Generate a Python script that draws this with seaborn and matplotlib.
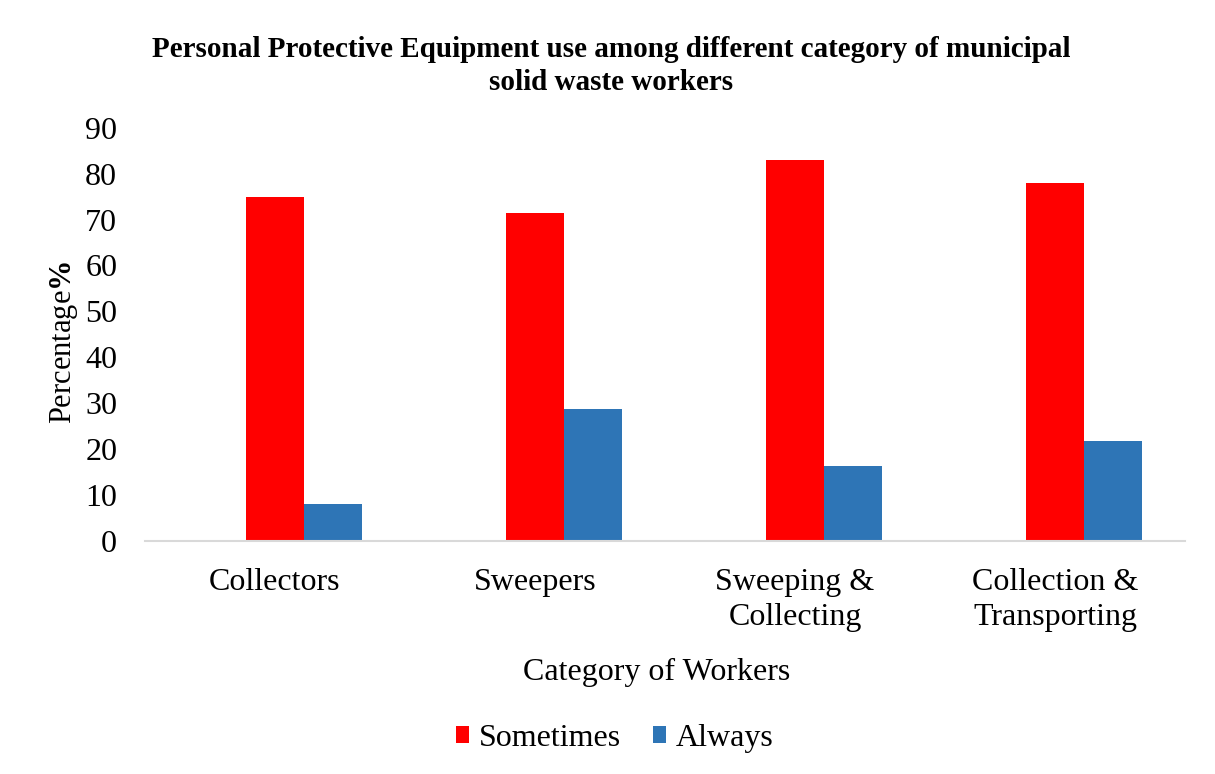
import matplotlib
matplotlib.use("Agg")
import matplotlib.pyplot as plt
import seaborn as sns
import pandas as pd

# Share of workers by frequency of PPE use (%)
categories = ["Collectors", "Sweepers", "Sweeping &\nCollecting", "Collection &\nTransporting"]
sometimes = [75.0, 71.4, 83.0, 78.0]
always = [8.0, 28.6, 16.2, 21.7]

series_names = ["Sometimes", "Always"]
series_colors = ["#FF0000", "#2E75B6"]

# Leading empty slot in the cluster (an unplotted series keeps its position)
slot_order = [" "] + series_names

df = pd.DataFrame({
    "Category": categories * 2,
    "Series": [series_names[0]] * len(categories) + [series_names[1]] * len(categories),
    "Value": sometimes + always,
})

sns.set_theme(style="white")
plt.rcParams["font.family"] = ["Liberation Serif", "DejaVu Serif"]
plt.rcParams["mathtext.fontset"] = "custom"
plt.rcParams["mathtext.rm"] = "Liberation Serif"
plt.rcParams["mathtext.bf"] = "Liberation Serif:bold"
plt.rcParams["text.color"] = "black"
plt.rcParams["axes.labelcolor"] = "black"
plt.rcParams["xtick.color"] = "black"
plt.rcParams["ytick.color"] = "black"

fig = plt.figure(figsize=(12.15, 7.74), dpi=100)
ax = fig.add_axes([145 / 1215, 1 - 540.5 / 774, 1040 / 1215, (540.5 - 128) / 774])

palette = {" ": "white", series_names[0]: series_colors[0], series_names[1]: series_colors[1]}
sns.barplot(data=df, x="Category", y="Value", hue="Series", hue_order=slot_order,
            order=categories, palette=palette, width=0.667, linewidth=0,
            saturation=1, ax=ax)

ax.set_ylim(0, 90)
ax.set_xlim(-0.5, len(categories) - 0.5)
ax.set_yticks(range(0, 91, 10))
ax.tick_params(axis="y", labelsize=23, pad=20, length=0, labelcolor="black")
ax.tick_params(axis="x", labelsize=23, pad=19.5, length=0, labelcolor="black")
for lbl in ax.get_xticklabels():
    lbl.set_linespacing(1.3)
    lbl.set_multialignment("center")

for side in ["top", "right", "left"]:
    ax.spines[side].set_visible(False)
ax.spines["bottom"].set_color("#D9D9D9")
ax.spines["bottom"].set_linewidth(1.5)
ax.grid(False)

ax.set_xlabel("Category of Workers", fontsize=23, color="black")
ax.xaxis.set_label_coords(0.492, -0.321)
ax.xaxis.label.set_va("center")
ax.set_ylabel(r"Percentage$\mathbf{\%}$", fontsize=22, color="black")
ax.yaxis.set_label_coords(-0.0775, 0.481)
ax.yaxis.label.set_va("center")

handles, labels = ax.get_legend_handles_labels()
keep = [(h, l) for h, l in zip(handles, labels) if l in series_names]
ax.get_legend().remove()
fig.legend([h for h, _ in keep], [l for _, l in keep], loc="center",
           bbox_to_anchor=(0.506, 1 - 738.5 / 774), ncol=2, frameon=False,
           fontsize=23, handlelength=0.42, handleheight=0.42,
           handletextpad=0.3, columnspacing=1.0, labelcolor="black")

fig.text(0.503, 1 - 66 / 774,
         "Personal Protective Equipment use among different category of municipal\nsolid waste workers",
         ha="center", va="center", fontsize=21, fontweight="bold", linespacing=1.3,
         color="black")

fig.savefig("out.png", dpi=100, facecolor="white")
